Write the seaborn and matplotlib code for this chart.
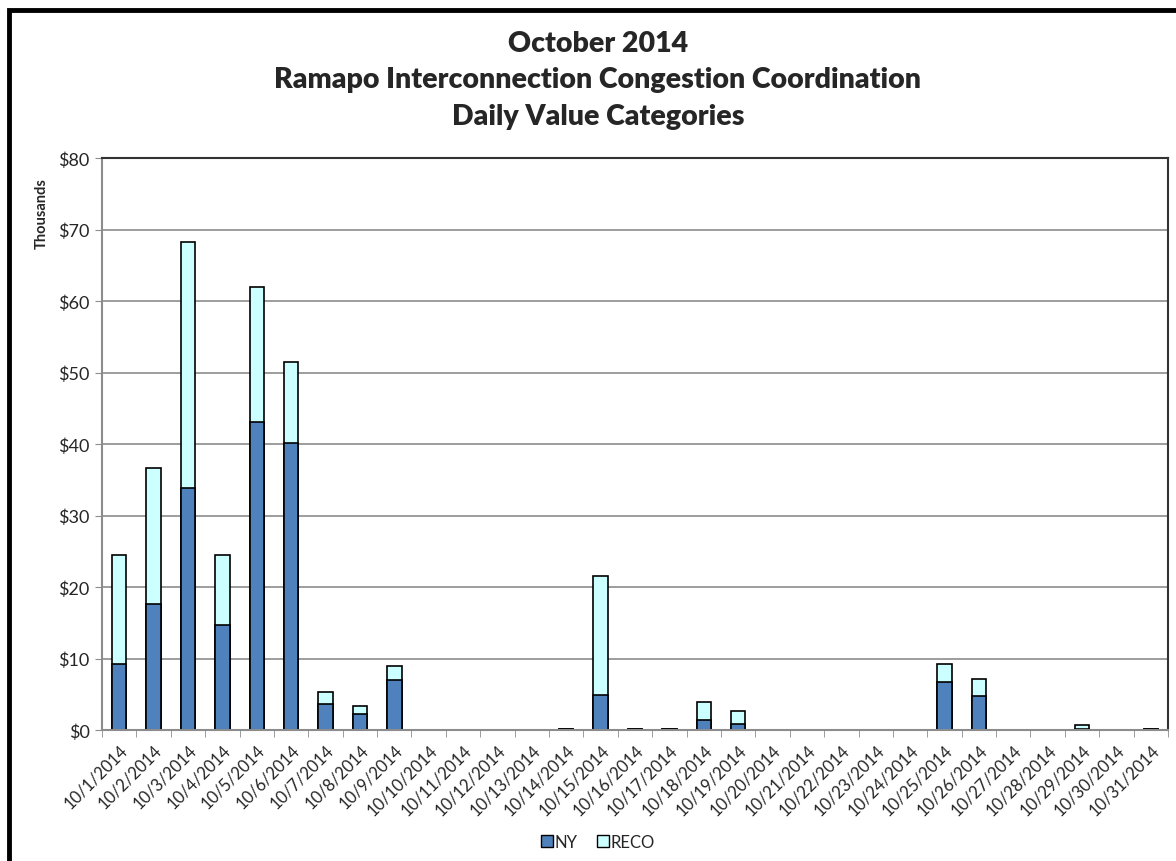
import matplotlib
matplotlib.use('Agg')
import matplotlib.pyplot as plt
import seaborn as sns
import numpy as np
import pandas as pd
from matplotlib.patches import Rectangle, Patch
from matplotlib.ticker import FuncFormatter

# Data (thousands of $)
dates = [f'10/{d}/2014' for d in range(1, 32)]
ny = [9.3, 17.6, 33.9, 14.7, 43.1, 40.2, 3.7, 2.2, 7.0, 0, 0, 0, 0, 0.2, 4.9,
      0.2, 0.2, 1.4, 0.9, 0, 0, 0, 0, 0, 6.7, 4.7, 0, 0, 0.1, 0, 0.2]
reco = [15.2, 19.0, 34.3, 9.8, 18.8, 11.2, 1.6, 1.1, 2.0, 0, 0, 0, 0, 0, 16.7,
        0, 0, 2.5, 1.7, 0, 0, 0, 0, 0, 2.6, 2.4, 0, 0, 0.6, 0, 0]

df = pd.DataFrame({'Date': dates, 'NY': ny, 'RECO': reco})
df['Total'] = df['NY'] + df['RECO']

sns.set_style('white')
plt.rcParams['font.family'] = ['Lato', 'DejaVu Sans']

ny_color = '#4f81bd'
reco_color = '#ccffff'

fig = plt.figure(figsize=(11.76, 8.62), dpi=100)
ax = fig.add_axes([102 / 1176, 1 - 731 / 862, (1168 - 102) / 1176, (731 - 159) / 862])

# stacked bars: draw totals first, then NY on top
sns.barplot(data=df, x='Date', y='Total', color=reco_color, edgecolor='black',
            linewidth=1.2, width=0.42, ax=ax, saturation=1)
sns.barplot(data=df, x='Date', y='NY', color=ny_color, edgecolor='black',
            linewidth=1.2, width=0.42, ax=ax, saturation=1)

ax.set_xlim(-0.5, 30.5)
ax.set_ylim(0, 80)
ax.set_yticks(np.arange(0, 81, 10))
ax.yaxis.set_major_formatter(FuncFormatter(lambda v, p: f'${v:.0f}'))
ax.grid(axis='y', color='#8c8c8c', linewidth=1.2)
ax.set_axisbelow(True)

ax.set_xlabel('')
ax.set_ylabel('Thousands', fontsize=10.5, fontweight='bold')
ax.yaxis.set_label_coords(-0.05, 0.905)
ax.set_xticks(range(31))
ax.set_xticklabels(dates, rotation=45, ha='right', rotation_mode='anchor', fontsize=12)
ax.tick_params(axis='x', which='major', length=0, pad=8)
ax.set_xticks(np.arange(-0.5, 31, 1), minor=True)
ax.tick_params(axis='x', which='minor', length=5, color='#8c8c8c', direction='out', bottom=True)
ax.tick_params(axis='y', length=5, color='#8c8c8c', direction='out', left=True, labelsize=13, pad=4)

for side in ['left', 'bottom']:
    ax.spines[side].set_color('#8c8c8c')
    ax.spines[side].set_linewidth(1.5)
for side in ['top', 'right']:
    ax.spines[side].set_color('#333333')
    ax.spines[side].set_linewidth(1.5)

fig.text(598 / 1176, 1 - 80 / 862,
         'October 2014\nRamapo Interconnection Congestion Coordination\nDaily Value Categories',
         ha='center', va='center', fontsize=20.5, fontweight='heavy', linespacing=1.5)

handles = [Patch(facecolor=ny_color, edgecolor='black', label='NY'),
           Patch(facecolor=reco_color, edgecolor='black', label='RECO')]
fig.legend(handles=handles, loc='center', bbox_to_anchor=(598 / 1176, 1 - 843 / 862),
           ncol=2, frameon=False, fontsize=12, handlelength=0.7, handleheight=0.7,
           handletextpad=0.1, columnspacing=1.2)

# outer chart frame
fig.patches.append(Rectangle((9 / 1176, -0.05), 1.2, 1 - 11 / 862 + 0.05,
                             transform=fig.transFigure, fill=False,
                             edgecolor='black', linewidth=3.5))

fig.savefig('out.png', dpi=100)
